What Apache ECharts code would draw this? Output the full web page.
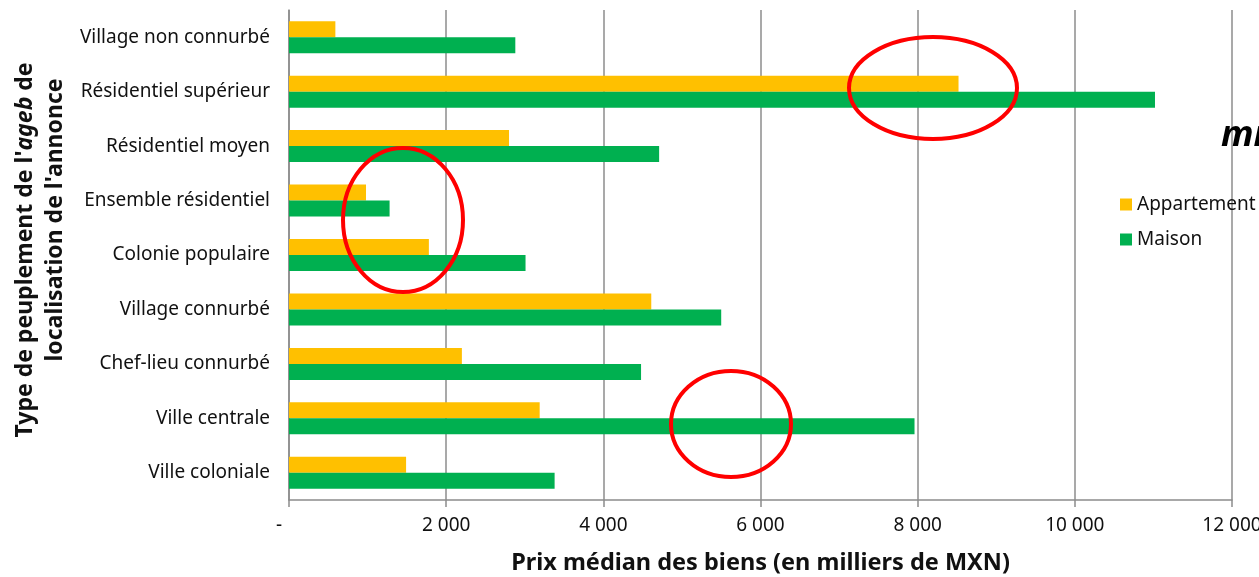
<!DOCTYPE html>
<html>
<head>
<meta charset="utf-8">
<script src="https://cdn.jsdelivr.net/npm/echarts@6/dist/echarts.min.js"></script>
<style>
  html, body { margin: 0; padding: 0; background: #fff; }
  #chart { width: 1259px; height: 577px; }
</style>
</head>
<body>
<div id="chart"></div>
<script>
// Settlement types, listed from the bottom of the axis to the top
const categories = [
  'Ville coloniale',
  'Ville centrale',
  'Chef-lieu connurbé',
  'Village connurbé',
  'Colonie populaire',
  'Ensemble résidentiel',
  'Résidentiel moyen',
  'Résidentiel supérieur',
  'Village non connurbé'
];

// Median prices, thousands of MXN
const appartement = [1490, 3190, 2200, 4610, 1780, 980, 2800, 8520, 590];
const maison = [3380, 7960, 4480, 5500, 3010, 1280, 4710, 11020, 2880];

const xTicks = [0, 2000, 4000, 6000, 8000, 10000, 12000];

const FONT = 'Noto Sans';

// zero shows as a dash, thousands separated by a space
function fmt(v) {
  if (v === 0) return '-    ';
  return String(v).replace(/\B(?=(\d{3})+(?!\d))/g, ' ');
}

const titleBase = { fontFamily: FONT, fontSize: 23, fontWeight: 'bold', color: '#111', lineHeight: 30 };

const chart = echarts.init(document.getElementById('chart'));

chart.setOption({
  animation: false,
  textStyle: { fontFamily: FONT },
  grid: { left: 289, right: 27, top: 10, bottom: 77, containLabel: false, outerBoundsMode: 'none' },
  legend: {
    orient: 'vertical',
    left: 1115,
    top: 190,
    itemWidth: 12,
    itemHeight: 12,
    itemGap: 16,
    icon: 'rect',
    data: ['Appartement', 'Maison'],
    textStyle: { fontFamily: FONT, fontSize: 19, color: '#111' }
  },
  xAxis: {
    type: 'value',
    min: xTicks[0],
    max: xTicks[xTicks.length - 1],
    interval: 2000,
    name: 'Prix médian des biens (en milliers de MXN)',
    nameLocation: 'middle',
    nameGap: 51,
    nameTextStyle: { fontFamily: FONT, fontSize: 23.5, fontWeight: 'bold', color: '#111' },
    axisLine: { show: true, lineStyle: { color: '#8c8c8c', width: 1.5 } },
    axisTick: { show: true, length: 7, lineStyle: { color: '#8c8c8c', width: 1.5 } },
    axisLabel: { formatter: fmt, margin: 16, fontSize: 19, color: '#111', fontFamily: FONT },
    splitLine: { show: true, lineStyle: { color: '#8c8c8c', width: 1.5 } }
  },
  yAxis: {
    type: 'category',
    data: categories,
    name: "{a|Type de peuplement de l'}{ai|ageb}{b| de}\n{c|localisation de l'annonce}",
    nameLocation: 'middle',
    nameRotate: 90,
    nameGap: 219,
    nameTextStyle: {
      rich: {
        a: Object.assign({}, titleBase, { padding: [0, 0, 0, 10] }),
        ai: Object.assign({}, titleBase, { fontStyle: 'italic' }),
        b: titleBase,
        c: Object.assign({}, titleBase, { padding: [0, 0, 0, 70] })
      }
    },
    axisLine: { show: true, lineStyle: { color: '#8c8c8c', width: 1.5 } },
    axisTick: { show: false },
    axisLabel: { margin: 19, fontSize: 19, color: '#111', fontFamily: FONT }
  },
  series: [
    {
      name: 'Appartement',
      type: 'bar',
      data: appartement,
      barWidth: 16,
      barGap: '0%',
      itemStyle: { color: '#FFC000' }
    },
    {
      name: 'Maison',
      type: 'bar',
      data: maison,
      barWidth: 16,
      barGap: '0%',
      itemStyle: { color: '#00B050' }
    }
  ],
  graphic: [
    { type: 'ellipse', shape: { cx: 933, cy: 88, rx: 84, ry: 51 }, style: { fill: 'none', stroke: '#ff0000', lineWidth: 4 }, z: 100 },
    { type: 'ellipse', shape: { cx: 403, cy: 220, rx: 60, ry: 72 }, style: { fill: 'none', stroke: '#ff0000', lineWidth: 4 }, z: 100 },
    { type: 'ellipse', shape: { cx: 731, cy: 424, rx: 60, ry: 53 }, style: { fill: 'none', stroke: '#ff0000', lineWidth: 4 }, z: 100 },
    { type: 'text', left: 1221, top: 118, style: { text: 'mi', font: 'italic bold 36px "Noto Sans"', fill: '#000' }, z: 100 }
  ]
});
</script>
</body>
</html>
